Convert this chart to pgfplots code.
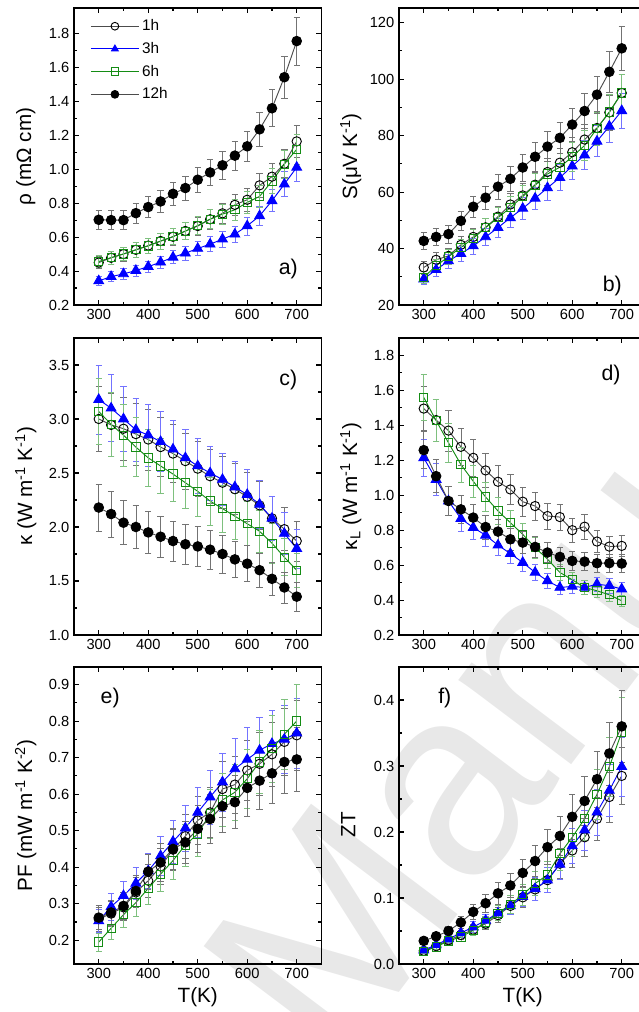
\documentclass[border=0pt]{standalone}
\usepackage{fontspec}
\setmainfont{Liberation Sans}
\usepackage{pgfplots}
\usepackage{pgfplotstable}
\pgfplotsset{compat=1.18}
\definecolor{mygreen}{RGB}{20,140,20}
\definecolor{myblue}{RGB}{0,0,255}

% T  1h  3h  6h  12h
\pgfplotstableread{
T h1 h3 h6 h12
300 0.450 0.342 0.456 0.702
325 0.478 0.367 0.479 0.700
350 0.500 0.383 0.501 0.700
375 0.525 0.403 0.525 0.741
400 0.550 0.426 0.548 0.777
425 0.577 0.452 0.576 0.810
450 0.602 0.481 0.603 0.855
475 0.636 0.505 0.635 0.889
500 0.665 0.533 0.668 0.938
525 0.705 0.558 0.706 0.981
550 0.740 0.588 0.735 1.023
575 0.790 0.617 0.761 1.080
600 0.820 0.666 0.804 1.135
625 0.905 0.725 0.840 1.235
650 0.956 0.814 0.930 1.359
675 1.032 0.912 1.030 1.542
700 1.164 1.011 1.117 1.755
}\rhotab
\pgfplotstableread{
T h1 h3 h6 h12
300 33.3 29.2 29.8 42.7
325 36.0 32.5 33.9 44.1
350 37.4 35.6 37.1 45.1
375 41.3 38.2 40.4 49.8
400 44.1 40.9 43.6 54.8
425 47.5 44.1 47.4 58.0
450 51.3 47.4 50.9 61.9
475 55.6 50.9 54.5 64.7
500 58.8 54.2 58.4 68.7
525 62.6 57.8 62.4 72.5
550 67.1 61.5 66.4 76.1
575 70.4 65.1 68.8 79.2
600 74.1 69.2 72.5 83.9
625 78.6 73.1 76.5 88.7
650 82.7 78.0 82.5 94.5
675 88.2 83.3 88.4 102.6
700 95.1 88.8 95.1 110.9
}\Stab
\pgfplotstableread{
T h1 h3 h6 h12
300 3.00 3.18 3.07 2.18
325 2.945 3.10 2.95 2.12
350 2.91 3.00 2.85 2.04
375 2.86 2.90 2.74 2.00
400 2.81 2.85 2.64 1.95
425 2.74 2.79 2.565 1.91
450 2.68 2.72 2.49 1.87
475 2.61 2.64 2.41 1.84
500 2.54 2.565 2.33 1.82
525 2.47 2.50 2.24 1.79
550 2.41 2.44 2.17 1.75
575 2.35 2.37 2.10 1.70
600 2.28 2.30 2.03 1.66
625 2.20 2.21 1.96 1.60
650 2.08 2.08 1.85 1.52
675 1.98 1.94 1.72 1.44
700 1.87 1.80 1.60 1.355
}\ktab
\pgfplotstableread{
T h1 h3 h6 h12
300 1.496 1.214 1.560 1.258
325 1.430 1.090 1.427 1.109
350 1.370 0.967 1.300 0.967
375 1.277 0.866 1.176 0.919
400 1.214 0.815 1.080 0.872
425 1.142 0.771 0.990 0.818
450 1.077 0.714 0.910 0.792
475 1.033 0.666 0.843 0.748
500 0.963 0.615 0.776 0.729
525 0.938 0.558 0.700 0.704
550 0.881 0.510 0.634 0.672
575 0.875 0.472 0.558 0.647
600 0.800 0.478 0.516 0.624
625 0.820 0.472 0.472 0.620
650 0.735 0.491 0.453 0.611
675 0.706 0.482 0.430 0.611
700 0.710 0.463 0.396 0.609
}\kLtab
\pgfplotstableread{
T h1 h3 h6 h12
300 0.258 0.253 0.195 0.262
325 0.273 0.292 0.233 0.276
350 0.290 0.322 0.270 0.294
375 0.331 0.356 0.303 0.335
400 0.363 0.390 0.342 0.388
425 0.402 0.431 0.381 0.413
450 0.448 0.470 0.418 0.450
475 0.485 0.507 0.461 0.468
500 0.528 0.550 0.491 0.505
525 0.550 0.592 0.546 0.532
550 0.614 0.633 0.584 0.567
575 0.626 0.669 0.605 0.578
600 0.665 0.695 0.642 0.617
625 0.683 0.720 0.688 0.637
650 0.709 0.738 0.724 0.657
675 0.743 0.750 0.764 0.688
700 0.761 0.767 0.800 0.695
}\PFtab
\pgfplotstableread{
T h1 h3 h6 h12
300 0.020 0.021 0.019 0.035
325 0.027 0.029 0.026 0.042
350 0.036 0.038 0.035 0.050
375 0.044 0.047 0.041 0.063
400 0.052 0.056 0.051 0.079
425 0.061 0.066 0.063 0.092
450 0.074 0.077 0.077 0.107
475 0.088 0.088 0.090 0.119
500 0.101 0.102 0.105 0.138
525 0.113 0.114 0.122 0.156
550 0.127 0.127 0.135 0.177
575 0.152 0.151 0.167 0.194
600 0.172 0.179 0.192 0.223
625 0.192 0.203 0.220 0.247
650 0.220 0.230 0.257 0.280
675 0.253 0.263 0.299 0.319
700 0.285 0.299 0.351 0.360
}\ZTtab

\tikzset{plabel/.style={font=\fontsize{16}{18}\selectfont, anchor=center}}
\pgfplotsset{
  panel/.style={
    scale only axis, width=185.6pt, height=222.75pt,
    anchor=north west,
    xmin=250, xmax=750, xtick={300,400,500,600,700},
    minor x tick num=1, minor y tick num=1,
    tick align=inside,
    major tick length=4pt, minor tick length=2.5pt,
    axis line style={line width=0.9pt},
    every tick/.style={black, line width=0.8pt},
    scaled ticks=false,
    /pgf/number format/assume math mode=true,
    ticklabel style={font=\fontsize{11}{13}\selectfont},
    yticklabel style={/pgf/number format/fixed, /pgf/number format/fixed zerofill, /pgf/number format/precision=1},
    xticklabel style={/pgf/number format/1000 sep={}},
    label style={font=\fontsize{15.5}{18}\selectfont},
    ylabel style={at={(axis description cs:-0.195,0.5)}, anchor=center},
    xlabel style={at={(axis description cs:0.5,-0.112)}, anchor=center},
    clip=false,
    every axis plot/.append style={line width=0.7pt},
  },
  eb/.style={error bars/.cd, y dir=both, y fixed relative=#1, error mark options={rotate=90, mark size=2.4pt, line width=0.5pt}},
  s1/.style={color=black!70, mark=o, mark size=3.5pt, mark options={black, fill=white, solid, line width=0.7pt},
     error bars/error bar style={black!55, line width=0.5pt}},
  s3/.style={color=myblue, mark=triangle*, mark size=4.2pt, mark options={myblue, fill=myblue, solid},
     error bars/error bar style={myblue!55, line width=0.5pt}},
  s6/.style={color=mygreen, mark=square, mark size=3.1pt, mark options={mygreen, fill=white, solid, line width=0.7pt},
     error bars/error bar style={mygreen!55, line width=0.5pt}},
  s12/.style={color=black!70, mark=*, mark size=3.6pt, mark options={black, fill=black, solid},
     error bars/error bar style={black!55, line width=0.5pt}},
}

\begin{document}
\begin{tikzpicture}[trim left=0pt, trim right=478.5pt]
\path (0,0) rectangle (478.5pt,759pt);
% faint watermark
\node[overlay, rotate=53, text=black!9, font=\fontsize{200}{200}\selectfont, anchor=base west] at (251pt,-50pt) {Manuscript};

% a)
\begin{axis}[panel, at={(55.5pt,753pt)}, ymin=0.2, ymax=1.95, ytick={0.2,0.4,...,1.81},
  ylabel={ρ (mΩ cm)},
  legend style={draw=none, fill=none, at={(axis description cs:0.06,0.975)}, anchor=north west,
    font=\fontsize{11.5}{13}\selectfont, row sep=3.2pt, inner sep=1pt},
  legend cell align=left,
  legend image code/.code={\draw[mark repeat=2,mark phase=2,mark size=2.9pt,#1] plot coordinates {(0pt,0pt) (18pt,0pt) (36pt,0pt)};}]
\addplot+[s1, eb=0.08] table[x=T,y=h1] {\rhotab}; \addlegendentry{1h}
\addplot+[s3, eb=0.08] table[x=T,y=h3] {\rhotab}; \addlegendentry{3h}
\addplot+[s6, eb=0.08] table[x=T,y=h6] {\rhotab}; \addlegendentry{6h}
\addplot+[s12, eb=0.08] table[x=T,y=h12] {\rhotab}; \addlegendentry{12h}
\node[plabel] at (axis description cs:0.866,0.12) {a)};
\end{axis}

% b)
\begin{axis}[panel, at={(299.25pt,753pt)}, ymin=20, ymax=125.2, ytick={20,40,...,120},
  yticklabel style={/pgf/number format/precision=0},
  ylabel={S(μV K\textsuperscript{-1})}]
\addplot+[s1, eb=0.07] table[x=T,y=h1] {\Stab};
\addplot+[s3, eb=0.07] table[x=T,y=h3] {\Stab};
\addplot+[s6, eb=0.07] table[x=T,y=h6] {\Stab};
\addplot+[s12, eb=0.07] table[x=T,y=h12] {\Stab};
\node[plabel] at (axis description cs:0.862,0.065) {b)};
\end{axis}

% c)
\begin{axis}[panel, at={(55.5pt,505.5pt)}, ymin=1.0, ymax=3.75, ytick={1.0,1.5,...,3.6},
  ylabel={κ (W m\textsuperscript{-1} K\textsuperscript{-1})}]
\addplot+[s1, eb=0.10] table[x=T,y=h1] {\ktab};
\addplot+[s3, eb=0.10] table[x=T,y=h3] {\ktab};
\addplot+[s6, eb=0.10] table[x=T,y=h6] {\ktab};
\addplot+[s12, eb=0.10] table[x=T,y=h12] {\ktab};
\node[plabel] at (axis description cs:0.866,0.86) {c)};
\end{axis}

% d)
\begin{axis}[panel, at={(299.25pt,505.5pt)}, ymin=0.2, ymax=1.9, ytick={0.2,0.4,...,1.81},
  ylabel={κ\textsubscript{L} (W m\textsuperscript{-1} K\textsuperscript{-1})}]
\addplot+[s1, eb=0.085] table[x=T,y=h1] {\kLtab};
\addplot+[s3, eb=0.085] table[x=T,y=h3] {\kLtab};
\addplot+[s6, eb=0.085] table[x=T,y=h6] {\kLtab};
\addplot+[s12, eb=0.085] table[x=T,y=h12] {\kLtab};
\node[plabel] at (axis description cs:0.857,0.876) {d)};
\end{axis}

% e)
\begin{axis}[panel, at={(55.5pt,258.75pt)}, ymin=0.135, ymax=0.948, ytick={0.2,0.3,...,0.91},
  ylabel={PF (mW m\textsuperscript{-1} K\textsuperscript{-2})}, xlabel={T(K)}]
\addplot+[s1, eb=0.125] table[x=T,y=h1] {\PFtab};
\addplot+[s3, eb=0.125] table[x=T,y=h3] {\PFtab};
\addplot+[s6, eb=0.125] table[x=T,y=h6] {\PFtab};
\addplot+[s12, eb=0.125] table[x=T,y=h12] {\PFtab};
\node[plabel] at (axis description cs:0.146,0.895) {e)};
\end{axis}

% f)
\begin{axis}[panel, at={(299.25pt,258.75pt)}, ymin=0, ymax=0.45, ytick={0,0.1,...,0.41},
  ylabel={ZT}, ylabel style={at={(axis description cs:-0.205,0.47)}}, xlabel={T(K)}]
\addplot+[s1, eb=0.15] table[x=T,y=h1] {\ZTtab};
\addplot+[s3, eb=0.15] table[x=T,y=h3] {\ZTtab};
\addplot+[s6, eb=0.15] table[x=T,y=h6] {\ZTtab};
\addplot+[s12, eb=0.15] table[x=T,y=h12] {\ZTtab};
\node[plabel] at (axis description cs:0.185,0.896) {f)};
\end{axis}
\end{tikzpicture}
\end{document}
